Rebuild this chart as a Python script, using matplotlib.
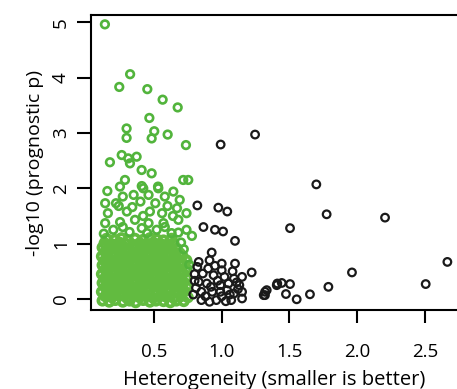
import matplotlib.pyplot as plt

# green: heterogeneity below the cut-off (dense block + upper scatter)
green_dense = [
    (0.12, -0.03), (0.17, -0.05), (0.215, -0.02), (0.27, -0.05), (0.32, -0.03), (0.365, -0.06), (0.42, -0.02),
    (0.47, -0.05), (0.515, -0.03), (0.57, -0.04), (0.62, -0.06), (0.665, -0.03), (0.72, -0.04),
    (0.14, 0.05), (0.19, 0.03), (0.245, 0.06), (0.30, 0.02), (0.345, 0.05), (0.395, 0.03), (0.44, 0.06),
    (0.495, 0.02), (0.545, 0.05), (0.59, 0.04), (0.645, 0.02), (0.70, 0.05), (0.75, 0.03),
    (0.115, 0.13), (0.165, 0.11), (0.22, 0.14), (0.27, 0.12), (0.315, 0.10), (0.37, 0.13), (0.42, 0.11),
    (0.465, 0.14), (0.52, 0.12), (0.57, 0.10), (0.615, 0.13), (0.67, 0.12), (0.725, 0.14),
    (0.14, 0.21), (0.195, 0.19), (0.24, 0.22), (0.295, 0.20), (0.345, 0.18), (0.39, 0.21), (0.445, 0.19),
    (0.495, 0.22), (0.54, 0.20), (0.595, 0.18), (0.645, 0.21), (0.695, 0.19), (0.745, 0.22),
    (0.12, 0.29), (0.17, 0.27), (0.22, 0.30), (0.265, 0.28), (0.32, 0.26), (0.37, 0.29), (0.415, 0.27),
    (0.47, 0.30), (0.52, 0.28), (0.565, 0.26), (0.62, 0.29), (0.67, 0.27), (0.72, 0.30),
    (0.135, 0.37), (0.19, 0.35), (0.245, 0.38), (0.29, 0.36), (0.345, 0.34), (0.395, 0.37), (0.44, 0.35),
    (0.495, 0.38), (0.545, 0.36), (0.59, 0.34), (0.645, 0.37), (0.695, 0.35), (0.74, 0.38),
    (0.115, 0.45), (0.165, 0.43), (0.215, 0.46), (0.27, 0.44), (0.32, 0.42), (0.365, 0.45), (0.42, 0.43),
    (0.47, 0.46), (0.515, 0.44), (0.57, 0.42), (0.62, 0.45), (0.665, 0.43), (0.715, 0.46),
    (0.14, 0.53), (0.19, 0.51), (0.24, 0.54), (0.295, 0.52), (0.345, 0.50), (0.39, 0.53), (0.445, 0.51),
    (0.495, 0.54), (0.54, 0.52), (0.595, 0.50), (0.645, 0.53), (0.69, 0.51), (0.74, 0.54),
    (0.12, 0.61), (0.17, 0.59), (0.22, 0.62), (0.265, 0.60), (0.32, 0.58), (0.37, 0.61), (0.415, 0.59),
    (0.47, 0.62), (0.52, 0.60), (0.565, 0.58), (0.62, 0.61), (0.665, 0.59), (0.715, 0.62),
    (0.135, 0.69), (0.19, 0.67), (0.245, 0.70), (0.29, 0.68), (0.345, 0.66), (0.395, 0.69), (0.44, 0.67),
    (0.495, 0.70), (0.545, 0.68), (0.59, 0.66), (0.645, 0.69), (0.695, 0.67), (0.74, 0.70),
    (0.115, 0.77), (0.165, 0.75), (0.215, 0.78), (0.27, 0.76), (0.32, 0.74), (0.365, 0.77), (0.42, 0.75),
    (0.47, 0.78), (0.515, 0.76), (0.57, 0.74), (0.62, 0.77), (0.665, 0.75), (0.71, 0.78),
    (0.14, 0.85), (0.19, 0.83), (0.24, 0.86), (0.295, 0.84), (0.345, 0.82), (0.39, 0.85), (0.445, 0.83),
    (0.495, 0.86), (0.54, 0.84), (0.595, 0.82), (0.645, 0.85), (0.69, 0.83),
    (0.12, 0.93), (0.17, 0.91), (0.22, 0.94), (0.265, 0.92), (0.32, 0.90), (0.37, 0.93), (0.415, 0.91),
    (0.47, 0.94), (0.52, 0.92), (0.565, 0.90), (0.62, 0.93), (0.67, 0.91),
    (0.135, 1.01), (0.19, 0.99), (0.245, 1.02), (0.29, 1.00), (0.345, 0.98), (0.395, 1.01), (0.44, 0.99),
    (0.495, 1.02), (0.545, 1.00), (0.59, 0.98), (0.645, 1.01),
    (0.15, 1.09), (0.21, 1.07), (0.26, 1.10), (0.31, 1.06), (0.36, 1.09), (0.42, 1.07), (0.47, 1.10),
    (0.52, 1.08), (0.57, 1.06), (0.63, 1.09),
]

green_upper = [
    (0.138, 4.96), (0.324, 4.06), (0.244, 3.83), (0.451, 3.79), (0.564, 3.60), (0.675, 3.46),
    (0.466, 3.27), (0.298, 3.08), (0.502, 3.03), (0.601, 2.97), (0.298, 2.91), (0.483, 2.90),
    (0.736, 2.78), (0.175, 2.47), (0.262, 2.60), (0.310, 2.54), (0.372, 2.57), (0.323, 2.45),
    (0.409, 2.33), (0.483, 2.27), (0.716, 2.15), (0.753, 2.15), (0.286, 2.15), (0.156, 1.95),
    (0.249, 2.03), (0.421, 2.00), (0.532, 2.00), (0.643, 1.94), (0.41, 2.04), (0.53, 2.03),
    (0.27, 1.85), (0.35, 1.88), (0.46, 1.88), (0.58, 1.85), (0.69, 1.79), (0.14, 1.73),
    (0.22, 1.73), (0.40, 1.76), (0.51, 1.73), (0.67, 1.64), (0.16, 1.55), (0.30, 1.58),
    (0.47, 1.58), (0.56, 1.55), (0.74, 1.55), (0.14, 1.37), (0.25, 1.39), (0.36, 1.43),
    (0.46, 1.37), (0.57, 1.37), (0.68, 1.43), (0.74, 1.25), (0.20, 1.25), (0.32, 1.21),
    (0.52, 1.25), (0.63, 1.19), (0.78, 1.14), (0.70, 1.02), (0.72, 0.90), (0.76, 0.62),
    (0.24, 1.68), (0.34, 1.66), (0.60, 1.68), (0.42, 1.50), (0.64, 1.50), (0.27, 1.30),
    (0.41, 1.28), (0.58, 1.30), (0.13, 1.18), (0.45, 1.19), (0.68, 1.20),
]

black_points = [
    (1.246, 2.97), (0.992, 2.79), (1.698, 2.07), (1.774, 1.53), (2.205, 1.47), (0.975, 1.65),
    (1.041, 1.58), (1.504, 1.28), (0.865, 1.30), (0.95, 1.25), (1.01, 1.22), (1.098, 1.05),
    (0.82, 1.69), (2.665, 0.67), (1.961, 0.48), (2.505, 0.27), (1.787, 0.22), (1.651, 0.085),
    (1.553, -0.005), (1.504, 0.27), (1.443, 0.29), (1.406, 0.25), (1.474, 0.09), (1.319, 0.07),
    (1.332, 0.16), (1.221, 0.48), (1.098, 0.64), (0.926, 0.84), (1.0, 0.64), (0.83, 0.67),
    (0.91, 0.70), (0.86, 0.46), (0.94, 0.43), (1.02, 0.40), (1.09, 0.37), (0.83, 0.31),
    (0.89, 0.28), (0.99, 0.25), (1.05, 0.28), (1.13, 0.25), (0.85, 0.13), (0.93, 0.13),
    (0.99, 0.13), (1.04, 0.16), (1.09, 0.10), (1.15, 0.13), (0.85, -0.02), (0.96, -0.02),
    (1.07, -0.02), (1.15, 0.01), (1.32, 0.13), (1.41, 0.28), (1.31, 0.07), (0.88, 0.05),
    (0.92, 0.22), (1.0, 0.05), (1.06, 0.08), (0.97, 0.33), (1.12, 0.18), (0.81, 0.20),
    (0.80, 0.45), (0.82, 0.58), (0.90, 0.55), (1.0, 0.52), (1.08, 0.50), (0.95, 0.60),
    (1.15, 0.40), (0.79, 0.08), (0.80, 0.33), (1.03, -0.04), (0.91, -0.05), (1.11, 0.30),
]

x_ticks = [0.5, 1.0, 1.5, 2.0, 2.5]
x_tick_labels = ["0.5", "1.0", "1.5", "2.0", "2.5"]
y_ticks = [0, 1, 2, 3, 4, 5]

plt.rcParams["font.family"] = ["Open Sans", "DejaVu Sans"]

fig = plt.figure(figsize=(4.57, 3.89), dpi=100)
ax = fig.add_axes([0.199, 0.203, 0.801, 0.758])

green = "#52b43c"
gx, gy = zip(*green_dense)
ax.scatter(gx, gy, s=34, facecolors="none", edgecolors="#62bb40", linewidths=2.7)
gx, gy = zip(*green_upper)
ax.scatter(gx, gy, s=30, facecolors="none", edgecolors=green, linewidths=1.9)
bx, by = zip(*black_points)
ax.scatter(bx, by, s=30, facecolors="none", edgecolors="#1a1a1a", linewidths=1.6)

ax.set_xlim(0.035, 2.736)
ax.set_ylim(-0.199, 5.126)
ax.set_xticks(x_ticks)
ax.set_xticklabels(x_tick_labels)
ax.set_yticks(y_ticks)
ax.set_yticklabels([str(v) for v in y_ticks], rotation=90, va="center")

ax.spines["right"].set_visible(False)
for s in ["left", "bottom", "top"]:
    ax.spines[s].set_linewidth(1.5)
ax.tick_params(axis="x", length=9.5, width=1.5, pad=14, labelsize=13.5)
ax.tick_params(axis="y", length=10, width=1.5, pad=5, labelsize=13.5)

ax.set_xlabel("Heterogeneity (smaller is better)", fontsize=14.5, labelpad=6.5)
ax.set_ylabel("-log10 (prognostic p)", fontsize=14, labelpad=6)

fig.savefig("out.png", dpi=100)
